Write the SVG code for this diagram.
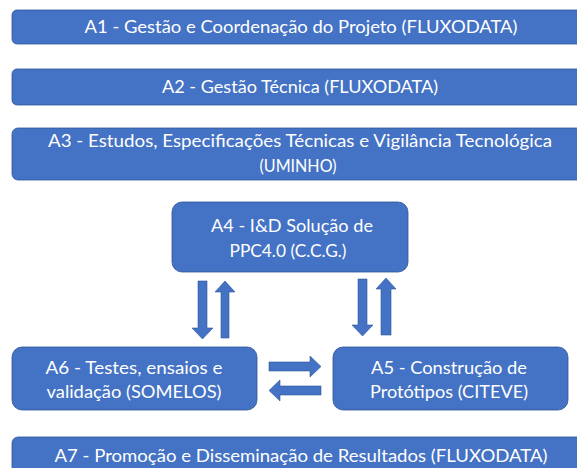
<svg xmlns="http://www.w3.org/2000/svg" width="577" height="468" viewBox="0 0 577 468">
<style>
.box{fill:#4472C4;stroke:#2F5597;stroke-width:0.8}
.arr{fill:#4472C4;stroke:#2F5597;stroke-width:0.6}
.t{font-family:Lato,"Open Sans","Liberation Sans",sans-serif;font-size:18px;fill:#FFFFFF;text-anchor:middle}
</style>
<rect width="577" height="468" fill="#FFFFFF"/>
<g id="A1">
<rect class="box" x="12" y="10" width="600" height="34" rx="5"/>
<text class="t" x="301" y="33" textLength="433" lengthAdjust="spacingAndGlyphs">A1 - Gestão e Coordenação do Projeto (FLUXODATA)</text>
</g>
<g id="A2">
<rect class="box" x="12" y="69" width="600" height="36" rx="5"/>
<text class="t" x="300" y="93" textLength="276" lengthAdjust="spacingAndGlyphs">A2 - Gestão Técnica (FLUXODATA)</text>
</g>
<g id="A3">
<rect class="box" x="12" y="128" width="600" height="52" rx="6"/>
<text class="t" x="300" y="147" textLength="504" lengthAdjust="spacingAndGlyphs">A3 - Estudos, Especificações Técnicas e Vigilância Tecnológica</text>
<text class="t" x="298" y="172" textLength="77" lengthAdjust="spacingAndGlyphs">(UMINHO)</text>
</g>
<g id="A4">
<rect class="box" x="172" y="202" width="236" height="70" rx="10"/>
<text class="t" x="292" y="232" textLength="162" lengthAdjust="spacingAndGlyphs">A4 - I&amp;D Solução de</text>
<text class="t" x="288" y="257" textLength="117" lengthAdjust="spacingAndGlyphs">PPC4.0 (C.C.G.)</text>
</g>
<g id="A6">
<rect class="box" x="12" y="347" width="245" height="63" rx="10"/>
<text class="t" x="134" y="374" textLength="177" lengthAdjust="spacingAndGlyphs">A6 - Testes, ensaios e</text>
<text class="t" x="134" y="398" textLength="175" lengthAdjust="spacingAndGlyphs">validação (SOMELOS)</text>
</g>
<g id="A5">
<rect class="box" x="333" y="347" width="235" height="63" rx="10"/>
<text class="t" x="449" y="374" textLength="156" lengthAdjust="spacingAndGlyphs">A5 - Construção de</text>
<text class="t" x="449" y="398" textLength="158" lengthAdjust="spacingAndGlyphs">Protótipos (CITEVE)</text>
</g>
<g id="A7">
<rect class="box" x="12" y="437" width="600" height="50" rx="6"/>
<text class="t" x="301" y="462" textLength="493" lengthAdjust="spacingAndGlyphs">A7 - Promoção e Disseminação de Resultados (FLUXODATA)</text>
</g>
<g id="connectors">
<polygon class="arr" points="198,281 207,281 207,328 213,328 202.5,339 192,328 198,328"/>
<polygon class="arr" points="221,338 229,338 229,292 235,292 225,281 215,292 221,292"/>
<polygon class="arr" points="358,279 367,279 367,325 373,325 362.5,336 352,325 358,325"/>
<polygon class="arr" points="381,335 391,335 391,289 396,289 386,278 376,289 381,289"/>
<polygon class="arr" points="269,362 310,362 310,356 321,366.5 310,377 310,371 269,371"/>
<polygon class="arr" points="321,386 280,386 280,380 269,390.5 280,401 280,395 321,395"/>
</g>
</svg>
